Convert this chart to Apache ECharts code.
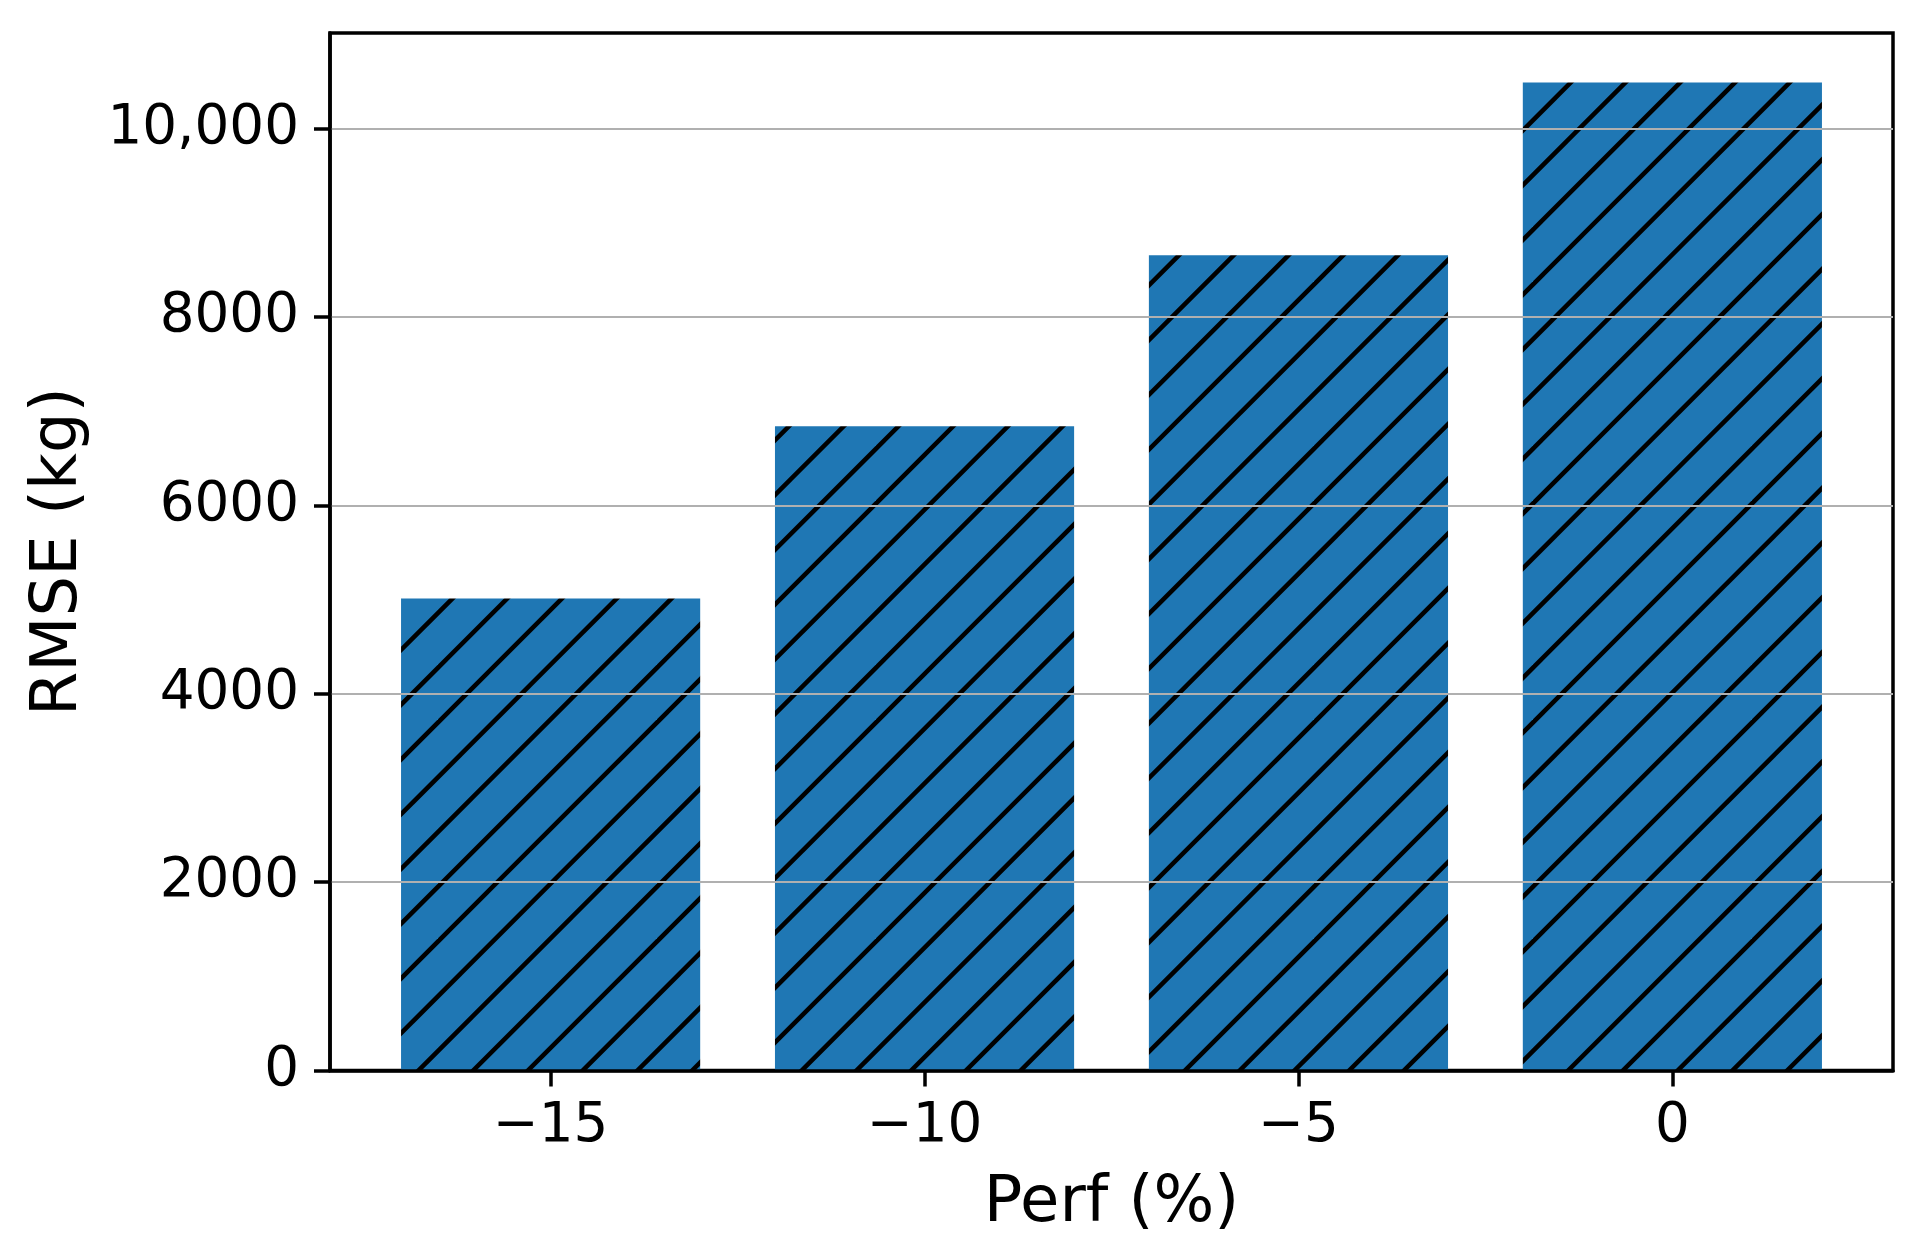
<!DOCTYPE html>
<html>
<head>
<meta charset="utf-8">
<script src="https://cdn.jsdelivr.net/npm/echarts@6/dist/echarts.min.js"></script>
<style>
  html, body { margin: 0; padding: 0; background: #fff; }
  #chart { width: 1916px; height: 1259px; }
</style>
</head>
<body>
<div id="chart"></div>
<script>
// data
const perf = [-15, -10, -5, 0];
const rmse = [5010, 6840, 8655, 10490];
const xTicks = [-15, -10, -5, 0];
const xTickLabels = ['\u221215', '\u221210', '\u22125', '0'];
const yTicks = [0, 2000, 4000, 6000, 8000, 10000];
const yTickLabels = ['0', '2000', '4000', '6000', '8000', '10,000'];

const BAR_WIDTH = 4;
const FONT = '"DejaVu Sans", sans-serif';

// matplotlib-like '/' hatch, tiled from the canvas origin
function makeHatch() {
  const period = 54.75;
  const size = period * 4;
  const phase = 10.7;
  const c = document.createElement('canvas');
  c.width = size;
  c.height = size;
  const ctx = c.getContext('2d');
  ctx.fillStyle = '#1f77b4';
  ctx.fillRect(0, 0, size, size);
  ctx.strokeStyle = '#000';
  ctx.lineWidth = 4.5;
  for (let k = -2; k <= 10; k++) {
    const s = phase + k * period;
    ctx.beginPath();
    ctx.moveTo(s + 20, -20);
    ctx.lineTo(-20, s + 20);
    ctx.stroke();
  }
  return c;
}

const hatch = makeHatch();

// matplotlib default margins: 5% of the data span
const xLo = Math.min(...perf) - BAR_WIDTH / 2;
const xHi = Math.max(...perf) + BAR_WIDTH / 2;
const xPad = (xHi - xLo) * 0.05;
const yMax = Math.max(...rmse) * 1.05;

const chart = echarts.init(document.getElementById('chart'));

chart.setOption({
  animation: false,
  backgroundColor: '#fff',
  grid: {
    left: 330,
    right: 23,
    top: 33,
    bottom: 188.5,
    show: true,
    borderColor: '#000',
    borderWidth: 3.5,
    outerBoundsMode: 'none'
  },
  xAxis: {
    type: 'value',
    min: xLo - xPad,
    max: xHi + xPad,
    z: 3,
    name: 'Perf (%)',
    nameLocation: 'middle',
    nameGap: 102,
    nameTextStyle: { fontFamily: FONT, fontSize: 64, color: '#000' },
    axisLine: { onZero: false, lineStyle: { color: '#000', width: 3.5 } },
    axisTick: {
      customValues: xTicks,
      length: 16,
      lineStyle: { color: '#000', width: 3.5 }
    },
    axisLabel: {
      customValues: xTicks,
      margin: 28.5,
      fontFamily: FONT,
      fontSize: 54.75,
      color: '#000',
      formatter: (v) => xTickLabels[xTicks.indexOf(v)]
    },
    splitLine: { show: false }
  },
  yAxis: {
    type: 'value',
    min: 0,
    max: yMax,
    z: 3,
    name: 'RMSE (kg)',
    nameLocation: 'middle',
    nameGap: 239,
    nameRotate: 90,
    nameTextStyle: { fontFamily: FONT, fontSize: 64, color: '#000' },
    axisLine: { show: true, onZero: false, lineStyle: { color: '#000', width: 3.5 } },
    axisTick: {
      show: true,
      customValues: yTicks,
      length: 16,
      lineStyle: { color: '#000', width: 3.5 }
    },
    axisLabel: {
      customValues: yTicks,
      margin: 31,
      fontFamily: FONT,
      fontSize: 54.75,
      color: '#000',
      formatter: (v) => yTickLabels[yTicks.indexOf(v)]
    },
    splitLine: { show: true, lineStyle: { color: '#b0b0b0', width: 2 } }
  },
  series: [
    {
      type: 'custom',
      z: 1,
      data: perf.map((p, i) => [p, rmse[i]]),
      renderItem(params, api) {
        const x = api.value(0);
        const top = api.coord([x - BAR_WIDTH / 2, api.value(1)]);
        const base = api.coord([x + BAR_WIDTH / 2, 0]);
        return {
          type: 'rect',
          shape: {
            x: top[0],
            y: top[1],
            width: base[0] - top[0],
            height: base[1] - top[1]
          },
          style: { fill: { image: hatch, repeat: 'repeat' } }
        };
      }
    }
  ]
});
</script>
</body>
</html>
